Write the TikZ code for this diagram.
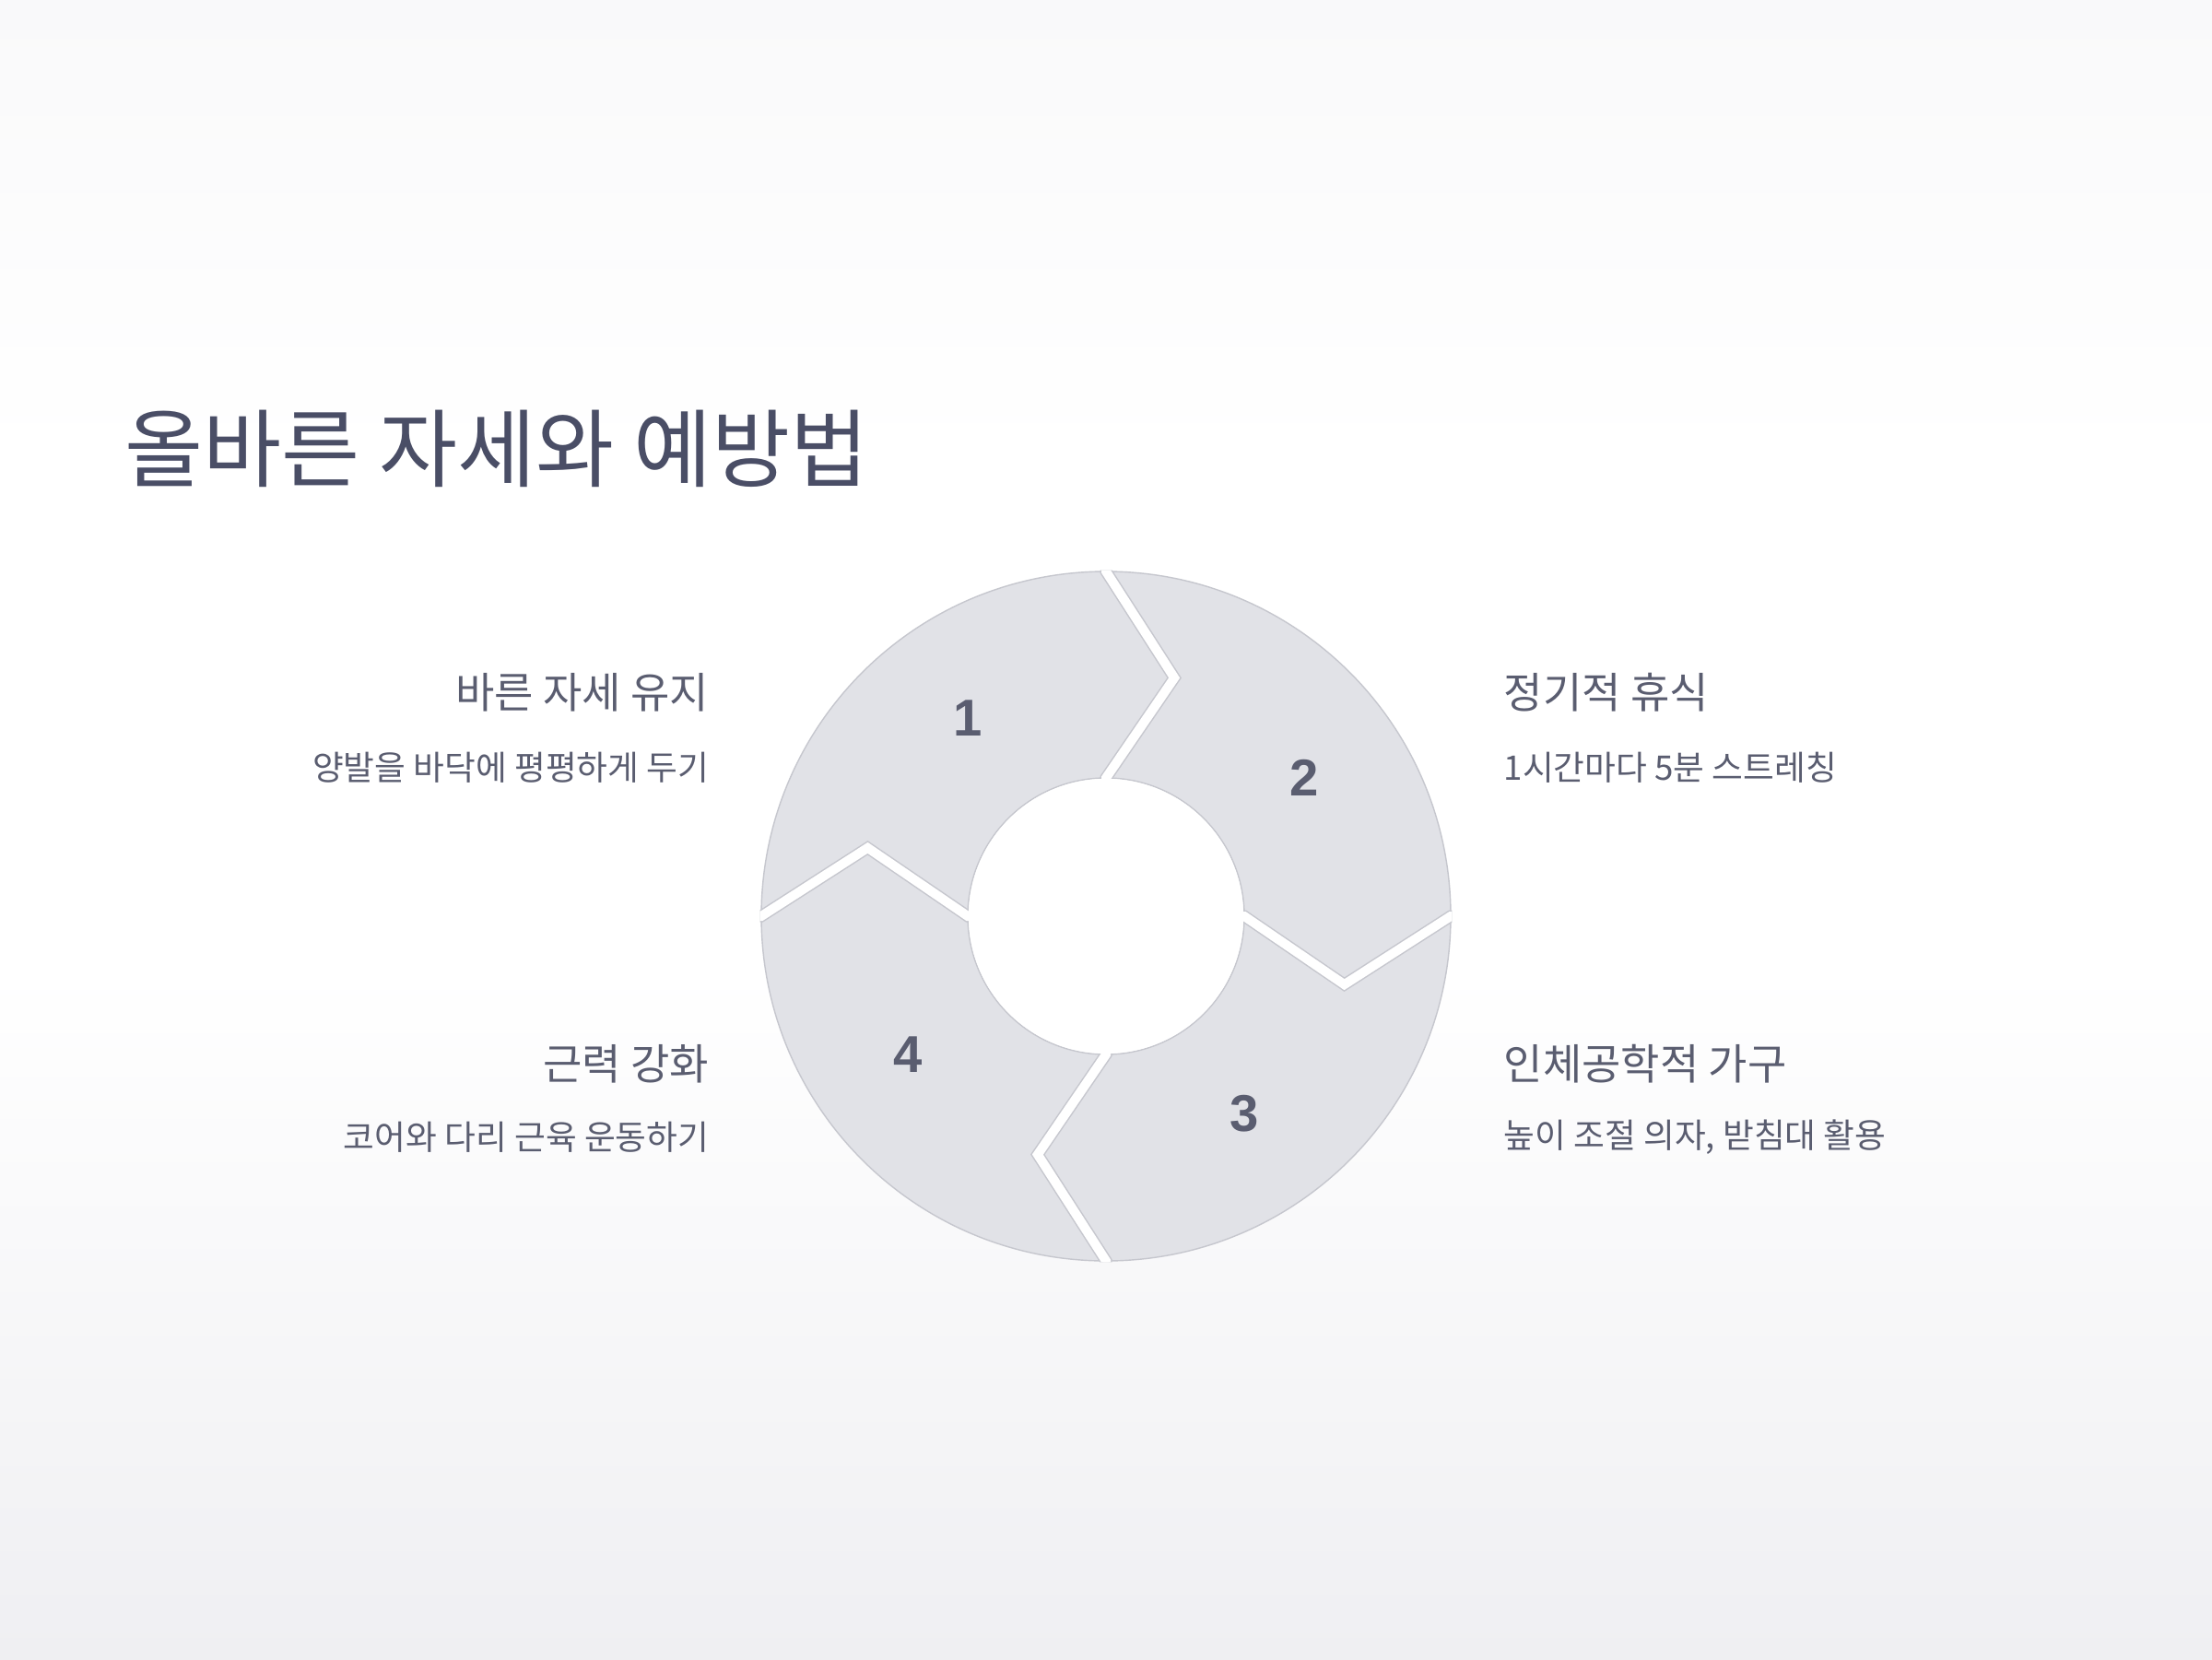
\documentclass[tikz,border=0pt]{standalone}
\usepackage{fontspec}
\setmainfont{Noto Sans CJK KR}
\newfontfamily\numfont{Liberation Sans}
\usetikzlibrary{positioning, calc}
\usepackage{xcolor}
\definecolor{titlegray}{HTML}{4A4E66}
\definecolor{textgray}{HTML}{5A5D70}
\definecolor{segfill}{HTML}{E1E2E7}
\definecolor{segline}{HTML}{C6C7CE}
\definecolor{bgtop}{HTML}{F9F9FA}
\definecolor{bgbottom}{HTML}{EFEFF2}

\tikzset{
  segment/.style={fill=segfill, draw=segline, line width=0.4pt},
  num/.style={font=\numfont\bfseries\fontsize{16}{18}\selectfont, text=textgray},
  label/.style={font=\fontsize{13.1}{16}\selectfont, text=textgray, inner sep=0pt},
  sublabel/.style={font=\fontsize{10.45}{12}\selectfont, text=textgray, inner sep=0pt},
}

\begin{document}
\begin{tikzpicture}
    \useasboundingbox (0,0) rectangle (24,18);
    % 배경
    \fill[white] (0,0) rectangle (24,18);
    \shade[top color=bgtop, bottom color=white] (0,13) rectangle (24,18);
    \shade[top color=white, bottom color=bgbottom] (0,0) rectangle (24,7.5);
    % 제목
    \node[anchor=west, inner sep=0pt, text=titlegray,
          font=\fontsize{26.3}{32}\selectfont] (title) at (1.35,13.13)
      {올바른 자세와 예방법};
    % 원형 고리
    \coordinate (ring) at (12,8.06);
    \foreach \a in {180,90,0,-90}
      \draw[segment]
        ($(ring)+(\a:3.74)$) arc[start angle=\a, end angle=\a-90, radius=3.74]
        -- ($(ring)+({\a-106}:2.69)$)
        -- ($(ring)+({\a-90}:1.5)$) arc[start angle=\a-90, end angle=\a, radius=1.5]
        -- ($(ring)+({\a-16}:2.69)$) -- cycle;
    % 조각 사이 틈
    \begin{scope}[even odd rule]
      \clip (ring) circle (3.755) (ring) circle (1.485);
      \foreach \a in {180,90,0,-90} {
        \draw[segline, line width=0.13cm]
          ($(ring)+(\a:3.9)$) -- ($(ring)+(\a:3.74)$)
          -- ($(ring)+({\a-16}:2.69)$) -- ($(ring)+(\a:1.5)$) -- ($(ring)+(\a:1.3)$);
        \draw[white, line width=0.10cm]
          ($(ring)+(\a:3.9)$) -- ($(ring)+(\a:3.74)$)
          -- ($(ring)+({\a-16}:2.69)$) -- ($(ring)+(\a:1.5)$) -- ($(ring)+(\a:1.3)$);
      }
    \end{scope}
    \fill[white] (ring) circle (1.49);
    % 번호
    \node[num] (n1) at ($(ring)+(125:2.62)$) {1};
    \node[num] (n2) at ($(ring)+(35:2.62)$) {2};
    \node[num] (n3) at ($(ring)+(-55:2.62)$) {3};
    \node[num] (n4) at ($(ring)+(-145:2.62)$) {4};
    % 왼쪽 설명
    \node[label, anchor=east] (lab1) at (7.70,10.49) {바른 자세 유지};
    \node[sublabel, anchor=east] (sub1) at (7.70,9.67) {양발을 바닥에 평평하게 두기};
    \node[label, anchor=east] (lab4) at (7.70,6.46) {근력 강화};
    \node[sublabel, anchor=east] (sub4) at (7.70,5.66) {코어와 다리 근육 운동하기};
    % 오른쪽 설명
    \node[label, anchor=west] (lab2) at (16.31,10.49) {정기적 휴식};
    \node[sublabel, anchor=west] (sub2) at (16.31,9.67) {1시간마다 5분 스트레칭};
    \node[label, anchor=west] (lab3) at (16.31,6.46) {인체공학적 가구};
    \node[sublabel, anchor=west] (sub3) at (16.31,5.66) {높이 조절 의자, 받침대 활용};
  \end{tikzpicture}
\end{document}
